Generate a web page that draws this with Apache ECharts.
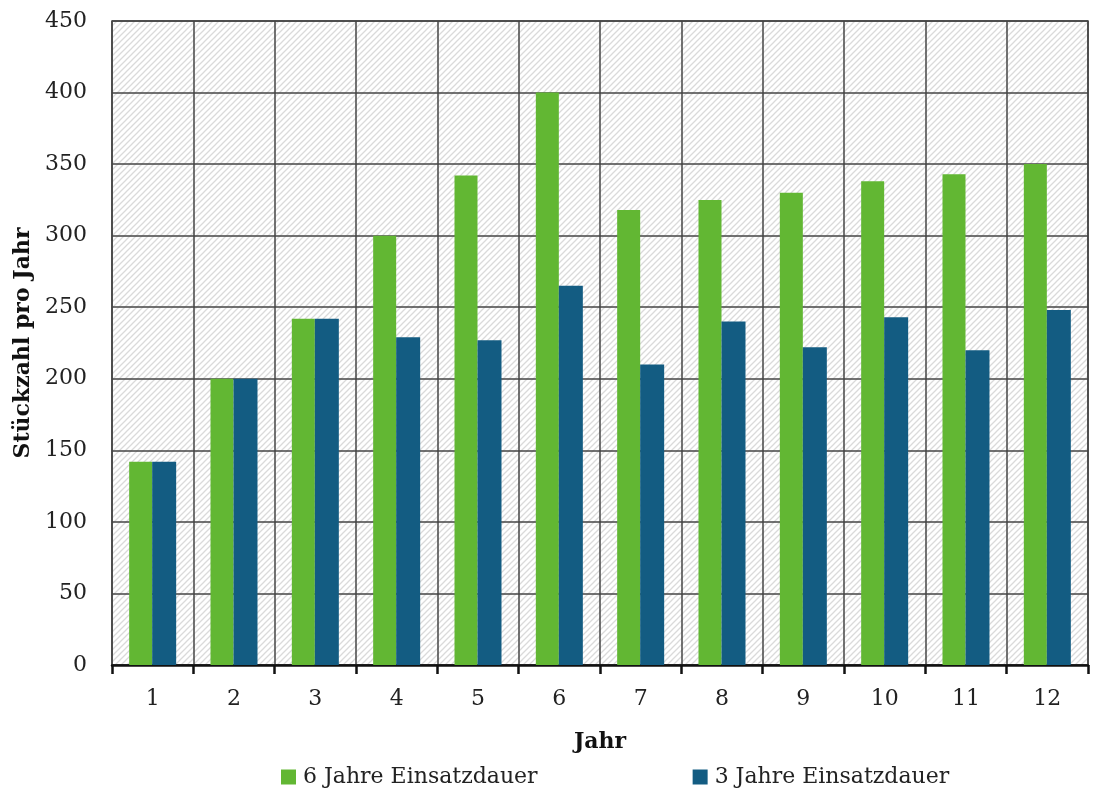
<!DOCTYPE html>
<html><head><meta charset="utf-8">
<script src="https://cdn.jsdelivr.net/npm/echarts@6/dist/echarts.min.js"></script>
<style>html,body{margin:0;padding:0;background:#fff}#c{width:1098px;height:791px}</style>
</head><body><div id="c"></div>
<script>
const categories = ['1','2','3','4','5','6','7','8','9','10','11','12'];
const sixYears = [142, 200, 242, 300, 342, 400, 318, 325, 330, 338, 343, 350];
const threeYears = [142, 200, 242, 229, 227, 265, 210, 240, 222, 243, 220, 248];
const seriesNames = ['6 Jahre Einsatzdauer', '3 Jahre Einsatzdauer'];

function hatch() {
  const s = 6;
  const c = document.createElement('canvas');
  c.width = s; c.height = s;
  const g = c.getContext('2d');
  g.fillStyle = '#ffffff'; g.fillRect(0,0,s,s);
  g.strokeStyle = '#dadada'; g.lineWidth = 1.3;
  g.beginPath();
  g.moveTo(-1, s+1); g.lineTo(s+1, -1);
  g.moveTo(-1, 1); g.lineTo(1, -1);
  g.moveTo(s-1, s+1); g.lineTo(s+1, s-1);
  g.stroke();
  return c;
}
const font = 'DejaVu Serif';
const fs = 22;
const chart = echarts.init(document.getElementById('c'));
chart.setOption({
  animation: false,
  textStyle: { fontFamily: font },
  grid: { left: 112, right: 10, top: 21, bottom: 126, show: true, outerBoundsMode: 'none', containLabel: false,
    backgroundColor: { image: hatch(), repeat: 'repeat' }, borderColor: '#444', borderWidth: 1.5 },
  legend: { bottom: -2, left: 276, itemGap: 155, itemWidth: 15, itemHeight: 15, icon: 'rect',
    textStyle: { fontFamily: font, fontSize: fs, color: '#222', padding: [0, 0, 0, 2] }, data: seriesNames },
  xAxis: {
    type: 'category', data: categories,
    name: 'Jahr', nameLocation: 'middle', nameGap: 66,
    nameTextStyle: { fontFamily: font, fontSize: fs, fontWeight: 'bold', color: '#111' },
    axisLine: { lineStyle: { color: '#111', width: 2.5 } },
    axisTick: { show: true, length: 9, lineStyle: { color: '#111', width: 2.5 } },
    axisLabel: { fontFamily: font, fontSize: fs, color: '#222', margin: 23 },
    splitLine: { show: true, lineStyle: { color: '#444', width: 1.5 } }
  },
  yAxis: {
    type: 'value', min: 0, max: 450, interval: 50,
    name: 'Stückzahl pro Jahr', nameLocation: 'middle', nameGap: 78,
    nameTextStyle: { fontFamily: font, fontSize: fs, fontWeight: 'bold', color: '#111' },
    axisLine: { show: false }, axisTick: { show: false },
    axisLabel: { fontFamily: font, fontSize: fs, color: '#222', margin: 25 },
    splitLine: { show: true, lineStyle: { color: '#444', width: 1.5 } }
  },
  series: [
    { name: seriesNames[0], type: 'bar', data: sixYears, barWidth: 23, barGap: '0%',
      itemStyle: { color: '#62B733' } },
    { name: seriesNames[1], type: 'bar', data: threeYears, barWidth: 24, barGap: '0%',
      itemStyle: { color: '#135C82' } }
  ]
});
</script></body></html>
